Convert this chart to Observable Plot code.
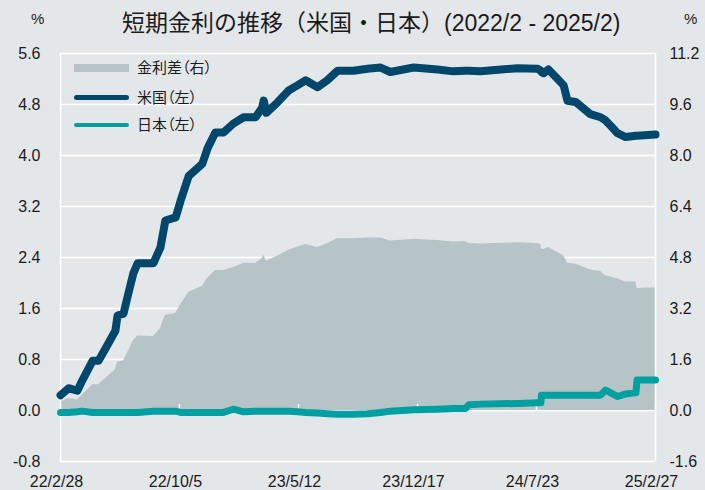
<!DOCTYPE html>
<html><head><meta charset="utf-8">
<script src="https://cdn.jsdelivr.net/npm/d3@7"></script>
<script src="https://cdn.jsdelivr.net/npm/@observablehq/plot@0.6"></script>
<style>
body{margin:0;background:#e4e7ea;}
#wrap{position:relative;width:705px;height:490px;background:#e4e7ea;font-family:"Liberation Sans",Arial,"Noto Sans CJK JP",sans-serif;color:#1a1a1a;overflow:hidden;}
#wrap svg{position:absolute;left:0;top:0;}
.title{position:absolute;left:122px;top:12px;font-size:23px;line-height:23px;white-space:nowrap;}
.pct{position:absolute;top:11px;font-size:15px;line-height:15px;}
.leg{position:absolute;left:74px;font-size:15px;line-height:15px;font-family:"Liberation Sans","Noto Sans CJK JP",sans-serif;font-feature-settings:"palt";}
.leg .sw{position:absolute;left:0;width:55px;}
.leg .tx{position:absolute;left:63px;white-space:nowrap;}
</style></head><body><div id="wrap">
<div class="title">短期金利の推移（米国・日本）(2022/2 - 2025/2)</div>
<div class="pct" style="left:31px">%</div>
<div class="pct" style="left:684px">%</div>
</div>
<script>
const dates = ["2022-02-28","2022-03-15","2022-03-31","2022-04-09","2022-04-28","2022-05-09","2022-05-27","2022-06-09","2022-06-13","2022-06-24","2022-07-01","2022-07-12","2022-07-20","2022-08-18","2022-08-31","2022-09-09","2022-09-28","2022-10-07","2022-10-22","2022-11-07","2022-11-16","2022-11-26","2022-12-10","2022-12-25","2023-01-12","2023-01-31","2023-02-22","2023-03-06","2023-03-09","2023-03-14","2023-04-03","2023-04-24","2023-05-10","2023-05-25","2023-06-16","2023-07-04","2023-07-23","2023-08-21","2023-09-16","2023-10-10","2023-10-28","2023-12-10","2024-01-23","2024-02-21","2024-03-14","2024-03-21","2024-04-11","2024-06-18","2024-07-25","2024-07-31","2024-08-01","2024-08-05","2024-08-14","2024-08-31","2024-09-11","2024-09-18","2024-10-03","2024-10-30","2024-11-18","2024-11-27","2024-12-06","2024-12-19","2025-01-03","2025-01-22","2025-01-24","2025-02-27"];
const usRate = [0.24,0.35,0.31,0.47,0.78,0.78,1.05,1.25,1.49,1.52,1.77,2.15,2.31,2.31,2.56,2.98,3.03,3.29,3.68,3.80,3.87,4.12,4.36,4.36,4.50,4.60,4.60,4.75,4.86,4.67,4.83,5.02,5.10,5.18,5.07,5.18,5.33,5.33,5.36,5.38,5.31,5.38,5.35,5.32,5.33,5.33,5.32,5.37,5.36,5.33,5.31,5.29,5.35,5.20,5.10,4.86,4.84,4.65,4.60,4.55,4.47,4.35,4.29,4.31,4.31,4.33];
const jpRate = [-0.03,-0.03,-0.02,-0.01,-0.03,-0.03,-0.03,-0.03,-0.03,-0.03,-0.03,-0.03,-0.03,-0.01,-0.01,-0.01,-0.01,-0.03,-0.03,-0.03,-0.03,-0.03,-0.03,-0.03,0.02,-0.02,-0.01,-0.01,-0.01,-0.01,-0.01,-0.01,-0.02,-0.03,-0.04,-0.05,-0.06,-0.06,-0.05,-0.03,-0.01,0.01,0.02,0.03,0.03,0.09,0.10,0.11,0.12,0.12,0.24,0.24,0.24,0.24,0.24,0.24,0.24,0.24,0.24,0.32,0.28,0.22,0.26,0.28,0.48,0.48];
const leftTicks = [-0.8,0,0.8,1.6,2.4,3.2,4.0,4.8,5.6];
const xTickLabels = ["22/2/28","22/10/5","23/5/12","23/12/17","24/7/23","25/2/27"];
const seriesNames = ["金利差（右）","米国（左）","日本（左）"];
const colors = {spread:"#b7c4c7", us:"#00476b", jp:"#00a0a2", grid:"#ffffff"};

const parseIso = d3.utcParse("%Y-%m-%d");
const parseLbl = d3.utcParse("%y/%m/%d");
const xTicks = xTickLabels.map(parseLbl);
const data = dates.map((d,i)=>({date:parseIso(d), us:usRate[i], jp:jpRate[i], spread:usRate[i]-jpRate[i]}));
const x0 = xTicks[0], x1 = xTicks[xTicks.length-1];

const chart = Plot.plot({
  width:705, height:490,
  marginTop:53, marginBottom:29, marginLeft:60, marginRight:50,
  style:{background:"transparent", fontFamily:'"Liberation Sans",Arial,sans-serif', fontSize:"16px", color:"#1a1a1a", overflow:"visible"},
  x:{type:"utc", domain:[x0,x1]},
  y:{domain:[-0.8,5.6]},
  marks:[
    Plot.ruleY(leftTicks,{stroke:colors.grid, strokeWidth:1.5}),
    Plot.areaY(data,{x:"date", y1:0, y2:d=>d.spread/2, fill:colors.spread}),
    Plot.ruleX(xTicks,{y1:0, y2:0, insetTop:-6, stroke:colors.grid, strokeWidth:1.5}),
    Plot.ruleX([x0,x1],{stroke:colors.grid, strokeWidth:1.5}),
    Plot.line(data,{x:"date", y:"jp", stroke:colors.jp, strokeWidth:7, strokeLinejoin:"round", strokeLinecap:"round"}),
    Plot.line(data,{x:"date", y:"us", stroke:colors.us, strokeWidth:8, strokeLinejoin:"round", strokeLinecap:"round"}),
    Plot.axisY(leftTicks,{anchor:"left", tickSize:0, tickPadding:20, tickFormat:d=>d.toFixed(1), fontSize:16}),
    Plot.axisY(leftTicks,{anchor:"right", tickSize:0, tickPadding:14, tickFormat:d=>(d*2).toFixed(1), fontSize:16}),
    Plot.axisX(xTicks,{anchor:"bottom", tickSize:0, tickPadding:14, tickFormat:(d,i)=>xTickLabels[i], fontSize:16, dx:-4})
  ]
});
const wrap = document.getElementById("wrap");
wrap.insertBefore(chart, wrap.firstChild);

// legend
const legItems = [
  {name:seriesNames[0], color:colors.spread, h:8, top:64},
  {name:seriesNames[1], color:colors.us, h:5, top:95},
  {name:seriesNames[2], color:colors.jp, h:4, top:123}
];
legItems.forEach(it=>{
  const g = document.createElement("div");
  g.className = "leg";
  g.style.top = it.top + "px";
  const sw = document.createElement("div");
  sw.className = "sw"; sw.style.height = it.h+"px"; sw.style.background = it.color; sw.style.top = "0px";
  if (it.h < 8) sw.style.borderRadius = "3px";
  const tx = document.createElement("div");
  tx.className = "tx"; tx.textContent = it.name; tx.style.top = (it.h/2 - 8) + "px";
  g.appendChild(sw); g.appendChild(tx);
  wrap.appendChild(g);
});
</script>
</body></html>
